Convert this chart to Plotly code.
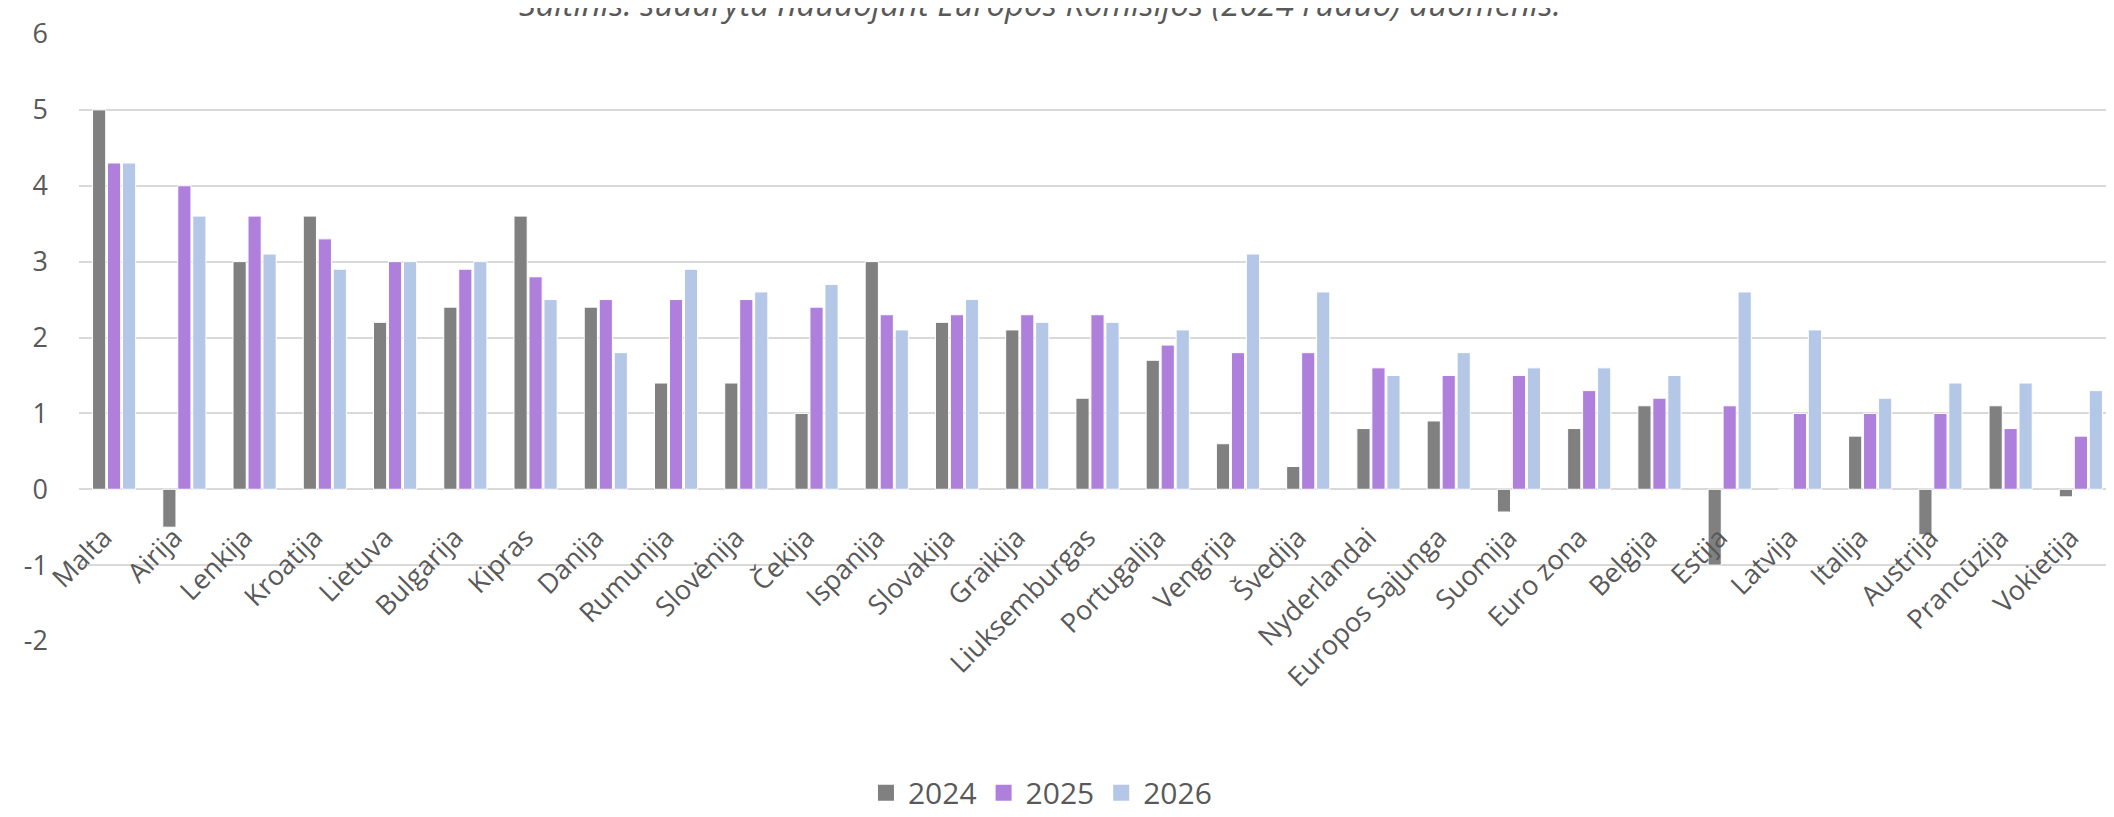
import plotly.graph_objects as go

categories = ["Malta", "Airija", "Lenkija", "Kroatija", "Lietuva", "Bulgarija", "Kipras",
              "Danija", "Rumunija", "Slovėnija", "Čekija", "Ispanija", "Slovakija", "Graikija",
              "Liuksemburgas", "Portugalija", "Vengrija", "Švedija", "Nyderlandai",
              "Europos Sąjunga", "Suomija", "Euro zona", "Belgija", "Estija", "Latvija",
              "Italija", "Austrija", "Prancūzija", "Vokietija"]

v2024 = [5.0, -0.5, 3.0, 3.6, 2.2, 2.4, 3.6, 2.4, 1.4, 1.4, 1.0, 3.0, 2.2, 2.1,
         1.2, 1.7, 0.6, 0.3, 0.8, 0.9, -0.3, 0.8, 1.1, -1.0, 0.0, 0.7, -0.6, 1.1, -0.1]
v2025 = [4.3, 4.0, 3.6, 3.3, 3.0, 2.9, 2.8, 2.5, 2.5, 2.5, 2.4, 2.3, 2.3, 2.3,
         2.3, 1.9, 1.8, 1.8, 1.6, 1.5, 1.5, 1.3, 1.2, 1.1, 1.0, 1.0, 1.0, 0.8, 0.7]
v2026 = [4.3, 3.6, 3.1, 2.9, 3.0, 3.0, 2.5, 1.8, 2.9, 2.6, 2.7, 2.1, 2.5, 2.2,
         2.2, 2.1, 3.1, 2.6, 1.5, 1.8, 1.6, 1.6, 1.5, 2.6, 2.1, 1.2, 1.4, 1.4, 1.3]

series_names = ["2024", "2025", "2026"]
colors = ["#808080", "#AF7FDC", "#B4C7E7"]
y_ticks = [-2, -1, 0, 1, 2, 3, 4, 5, 6]
y_tick_text = ["-2", "-1", "0", "1", "2", "3", "4", "5", "6"]
source_text = "Šaltinis: sudaryta naudojant Europos Komisijos (2024 ruduo) duomenis."

FONT = "Open Sans"
TXT = "#595959"

fig = go.Figure()
for name, vals, col in zip(series_names, [v2024, v2025, v2026], colors):
    fig.add_trace(go.Bar(
        x=categories, y=vals, name=name, showlegend=False, legendgroup=name,
        marker=dict(color=col, line=dict(color="white", width=1)),
    ))
# legend entries with square swatches
for name, col in zip(series_names, colors):
    fig.add_trace(go.Scatter(
        x=[None], y=[None], mode="markers", name=name, legendgroup=name,
        marker=dict(symbol="square", size=19, color=col),
    ))

fig.update_layout(
    width=2114, height=817,
    margin=dict(l=71, r=6, t=23, b=170),
    paper_bgcolor="white", plot_bgcolor="white",
    barmode="group", bargap=0.36, bargroupgap=0.12,
    font=dict(family=FONT, color=TXT, size=24),
    showlegend=True,
    legend=dict(orientation="h", x=0.472, xanchor="center", y=-0.25, yanchor="middle",
                font=dict(size=30, color=TXT), itemwidth=34, traceorder="normal",
                itemclick=False),
    xaxis=dict(
        type="category", tickangle=-45, showgrid=False, showline=False, ticks="",
        anchor="free", position=0.25, tickfont=dict(size=27, color=TXT),
        ticklabelstandoff=26, ticklabelshift=-10,
    ),
    yaxis=dict(
        range=[-2, 6], tickvals=y_ticks, ticktext=y_tick_text,
        showgrid=True, gridcolor="#D9D9D9", gridwidth=1.5,
        zeroline=True, zerolinecolor="#D9D9D9", zerolinewidth=1.5, showline=False,
        ticks="", ticklabelstandoff=30, tickfont=dict(size=27, color=TXT),
    ),
    annotations=[dict(
        text=source_text, xref="paper", yref="paper", x=0.472, y=1, xanchor="center",
        yanchor="bottom", yshift=6, showarrow=False,
        font=dict(family=FONT, size=33, color=TXT, style="italic"),
    )],
)

fig.write_html("out.html")
